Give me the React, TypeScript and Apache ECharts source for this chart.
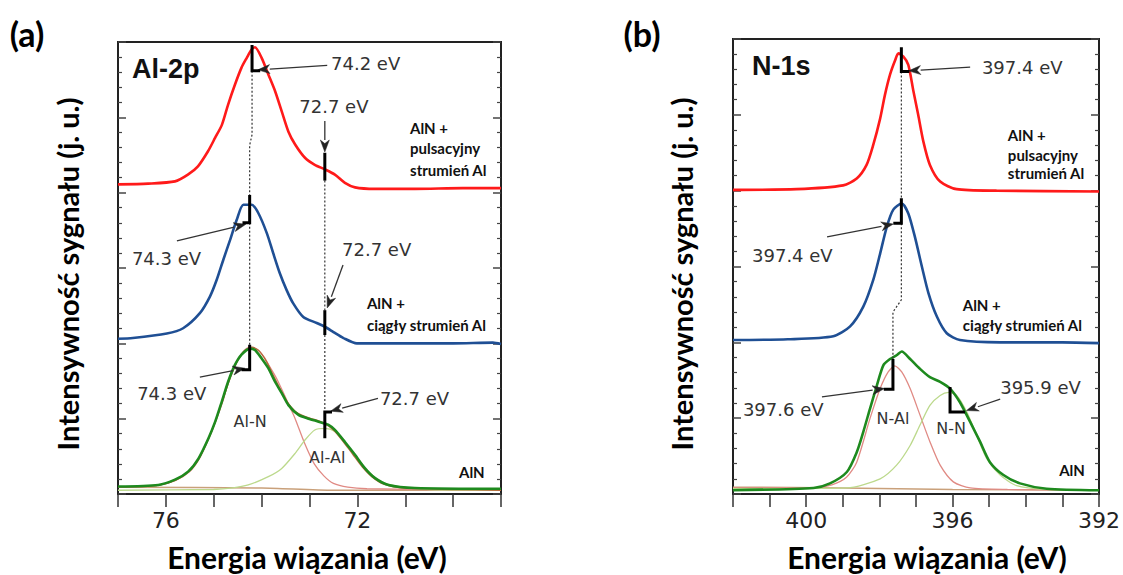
import React, { useEffect, useRef } from "react";
import * as echarts from "echarts";

// ---------- DATA (binding energy eV, intensity a.u.) ----------
const alTickLabels = [76, 72];
const nTickLabels = [400, 396, 392];

const alRed = [[77,4.11],[76.37,4.12],[75.81,4.15],[75.54,4.24],[75.33,4.35],[75.12,4.55],[74.97,4.73],[74.83,4.9],[74.7,5.17],[74.56,5.43],[74.42,5.66],[74.31,5.79],[74.21,5.9],[74.14,5.93],[74.0,5.79],[73.86,5.57],[73.72,5.35],[73.58,5.08],[73.44,4.81],[73.3,4.64],[73.09,4.46],[72.89,4.37],[72.68,4.31],[72.47,4.24],[72.26,4.13],[72.05,4.07],[71.63,4.05],[70.8,4.05],[69.8,4.06],[69,4.06]];
const alBlue = [[77,2.06],[76.69,2.07],[75.98,2.13],[75.64,2.2],[75.29,2.4],[75.08,2.62],[74.94,2.84],[74.8,3.11],[74.66,3.37],[74.52,3.64],[74.38,3.84],[74.21,3.84],[74.07,3.73],[73.89,3.46],[73.76,3.2],[73.62,2.93],[73.48,2.71],[73.34,2.53],[73.13,2.35],[72.85,2.27],[72.68,2.22],[72.5,2.15],[72.29,2.07],[72.01,2.0],[71.11,2.0],[70,2.0],[69.17,2.01],[69,1.99]];
const alGreen = [[77,0.1],[76.16,0.12],[75.81,0.19],[75.53,0.3],[75.32,0.47],[75.11,0.74],[74.97,0.96],[74.83,1.23],[74.7,1.49],[74.56,1.71],[74.42,1.85],[74.24,1.93],[74.14,1.91],[74.0,1.8],[73.86,1.67],[73.72,1.49],[73.58,1.34],[73.44,1.18],[73.23,1.05],[73.02,1.0],[72.81,0.96],[72.61,0.92],[72.47,0.85],[72.26,0.69],[72.05,0.52],[71.84,0.34],[71.63,0.21],[71.35,0.12],[70.8,0.08],[69,0.07]];
const alFitN = [[77,0.09],[76.2,0.11],[75.8,0.18],[75.5,0.3],[75.3,0.47],[75.1,0.74],[74.95,0.98],[74.8,1.25],[74.7,1.48],[74.55,1.72],[74.4,1.88],[74.25,1.95],[74.1,1.92],[73.95,1.82],[73.85,1.71],[73.7,1.55],[73.55,1.35],[73.4,1.14],[73.3,1.0],[73.1,0.67],[72.9,0.4],[72.7,0.24],[72.5,0.14],[72.2,0.09],[71.8,0.07],[69,0.05]];
const alFitAl = [[77,0.05],[75,0.06],[74.6,0.08],[74.28,0.12],[73.86,0.23],[73.58,0.34],[73.3,0.54],[73.09,0.72],[72.89,0.85],[72.68,0.87],[72.47,0.83],[72.26,0.69],[72.05,0.52],[71.77,0.3],[71.49,0.16],[71.15,0.1],[70.5,0.06],[69,0.05]];
const alEnvelope = [[77,0.09],[76.2,0.11],[75.8,0.18],[75.5,0.31],[75.3,0.48],[75.1,0.75],[74.95,0.99],[74.8,1.27],[74.65,1.55],[74.5,1.77],[74.35,1.9],[74.2,1.95],[74.05,1.9],[73.9,1.76],[73.75,1.57],[73.6,1.38],[73.45,1.21],[73.3,1.1],[73.1,1.03],[72.9,0.99],[72.7,0.94],[72.5,0.85],[72.3,0.7],[72.1,0.53],[71.9,0.36],[71.7,0.23],[71.45,0.13],[71.1,0.08],[70,0.06],[69,0.05]];
const alBackground = [[77,0.09],[74,0.08],[72.5,0.05],[69,0.05]];

const nRed = [[402,4.01],[400.26,4.02],[398.99,4.07],[398.62,4.16],[398.35,4.34],[398.17,4.6],[397.98,4.95],[397.85,5.26],[397.71,5.53],[397.57,5.72],[397.48,5.81],[397.35,5.77],[397.21,5.66],[397.07,5.31],[396.94,5.0],[396.8,4.65],[396.62,4.34],[396.34,4.12],[395.89,4.02],[394.8,4.0],[392,3.99]];
const nBlue = [[402,2.03],[400.5,2.04],[399.26,2.08],[398.8,2.21],[398.44,2.47],[398.17,2.82],[397.98,3.17],[397.8,3.52],[397.62,3.75],[397.39,3.83],[397.21,3.7],[397.03,3.39],[396.84,3.0],[396.66,2.65],[396.43,2.34],[396.16,2.12],[395.8,2.03],[394.7,2.0],[393,2.0],[392,1.99]];
const nGreen = [[402,0.05],[399.8,0.08],[399.35,0.14],[398.89,0.29],[398.62,0.55],[398.44,0.82],[398.26,1.12],[398.07,1.43],[397.89,1.7],[397.71,1.78],[397.53,1.83],[397.39,1.88],[397.16,1.78],[396.89,1.65],[396.62,1.54],[396.34,1.48],[396.07,1.39],[395.8,1.21],[395.52,0.95],[395.25,0.69],[394.98,0.42],[394.61,0.25],[394.16,0.14],[393.43,0.07],[392,0.05]];
const nFitAl = [[402,0.08],[399.8,0.08],[399.3,0.12],[398.9,0.22],[398.62,0.42],[398.26,0.99],[397.98,1.39],[397.76,1.61],[397.58,1.69],[397.39,1.61],[397.16,1.39],[396.89,1.04],[396.62,0.69],[396.34,0.38],[395.98,0.16],[395.52,0.08],[394.5,0.06],[392,0.05]];
const nFitN = [[402,0.07],[398.89,0.08],[397.98,0.2],[397.53,0.38],[397.16,0.64],[396.89,0.91],[396.62,1.17],[396.34,1.3],[396.11,1.34],[395.89,1.3],[395.61,1.08],[395.34,0.77],[395.07,0.47],[394.7,0.25],[394.25,0.11],[393.43,0.06],[392,0.05]];
const nBackground = [[402,0.09],[399,0.08],[396,0.06],[392,0.05]];

// ---------- ANNOTATIONS (data coordinates) ----------
const alBars = [
  [[74.2,5.96],[74.2,5.62],[74.03,5.62]],
  [[74.25,3.97],[74.25,3.6],[74.4,3.6]],
  [[74.25,1.98],[74.25,1.65],[74.42,1.65]],
  [[72.68,4.53],[72.68,4.16]],
  [[72.68,2.44],[72.68,2.11]],
  [[72.53,1.09],[72.68,1.09],[72.68,0.74]],
];
const alDots = [
  [[74.2,5.62],[74.2,4.77],[74.25,4.63],[74.25,3.97]],
  [[74.25,3.6],[74.25,1.98]],
  [[72.68,4.16],[72.68,2.44]],
  [[72.68,2.11],[72.68,1.09]],
];
const alArrows = [
  [[72.63,5.69],[74.08,5.63]],
  [[75.77,3.36],[74.33,3.58]],
  [[75.29,1.55],[74.35,1.67]],
  [[72.68,4.95],[72.68,4.54]],
  [[72.3,3.04],[72.63,2.47]],
  [[71.57,1.27],[72.56,1.1]],
];
const alTexts = [
  { at: [72.55,5.72], text: "74.2 eV", kind: "ev", align: "left" },
  { at: [76.71,3.13], text: "74.3 eV", kind: "ev", align: "left" },
  { at: [76.6,1.34], text: "74.3 eV", kind: "ev", align: "left" },
  { at: [72.49,5.15], text: "72.7 eV", kind: "ev", align: "center" },
  { at: [72.32,3.24], text: "72.7 eV", kind: "ev", align: "left" },
  { at: [71.53,1.27], text: "72.7 eV", kind: "ev", align: "left" },
  { at: [74.24,0.96], text: "Al-N", kind: "comp", align: "center" },
  { at: [72.63,0.48], text: "Al-Al", kind: "comp", align: "center" },
  { at: [69.61,0.29], text: "AlN", kind: "sample", align: "center" },
  { at: [71.8,2.54], text: "AlN +", kind: "sample", align: "left" },
  { at: [71.8,2.24], text: "ciągły strumień Al", kind: "sample", align: "left" },
  { at: [70.9,4.86], text: "AlN +", kind: "sample", align: "left" },
  { at: [70.9,4.59], text: "pulsacyjny", kind: "sample", align: "left" },
  { at: [70.9,4.3], text: "strumień Al", kind: "sample", align: "left" },
  { at: [76.71,5.64], text: "Al-2p", kind: "title", align: "left" },
];

const nBars = [
  [[397.4,5.89],[397.4,5.57],[397.18,5.57]],
  [[397.4,3.9],[397.4,3.57],[397.62,3.57]],
  [[397.63,1.78],[397.63,1.38],[397.88,1.38]],
  [[396.07,1.41],[396.07,1.08],[395.66,1.08]],
];
const nDots = [
  [[397.4,5.57],[397.4,3.9]],
  [[397.4,3.57],[397.4,2.56],[397.63,2.4],[397.63,1.78]],
];
const nArrows = [
  [[395.52,5.63],[397.2,5.58]],
  [[399.43,3.39],[397.62,3.56]],
  [[399.57,1.28],[397.86,1.39]],
  [[394.7,1.25],[395.62,1.1]],
];
const nTexts = [
  { at: [395.2,5.63], text: "397.4 eV", kind: "ev", align: "left" },
  { at: [401.48,3.15], text: "397.4 eV", kind: "ev", align: "left" },
  { at: [401.73,1.12], text: "397.6 eV", kind: "ev", align: "left" },
  { at: [394.7,1.41], text: "395.9 eV", kind: "ev", align: "left" },
  { at: [397.63,0.99], text: "N-Al", kind: "comp", align: "center" },
  { at: [396.04,0.86], text: "N-N", kind: "comp", align: "center" },
  { at: [392.74,0.32], text: "AlN", kind: "sample", align: "center" },
  { at: [395.72,2.49], text: "AlN +", kind: "sample", align: "left" },
  { at: [395.72,2.23], text: "ciągły strumień Al", kind: "sample", align: "left" },
  { at: [394.49,4.73], text: "AlN +", kind: "sample", align: "left" },
  { at: [394.49,4.47], text: "pulsacyjny", kind: "sample", align: "left" },
  { at: [394.49,4.23], text: "strumień Al", kind: "sample", align: "left" },
  { at: [401.48,5.64], text: "N-1s", kind: "title", align: "left" },
];

// ---------- STYLES ----------
const RED = "#ff1a1a";
const BLUE = "#1f4f94";
const GREEN = "#1e8a1e";
const FIT_RED = "#e08a84";
const FIT_GREEN = "#bcd98c";
const ENVELOPE = "#b5673a";
const BACKGROUND = "#c9a07a";
const FONTS: Record<string, string> = {
  ev: "18px 'DejaVu Sans'",
  comp: "16px 'DejaVu Sans'",
  sample: "bold 15px Lato",
  title: "bold 27px 'Liberation Sans'",
};

const lineSeries = (data: number[][], color: string, width: number, g: number, z = 3) => ({
  type: "line",
  data,
  xAxisIndex: g,
  yAxisIndex: g * 2,
  showSymbol: false,
  symbol: "none",
  smooth: 0.25,
  z,
  lineStyle: { color, width },
  silent: true,
});

const xAxisCfg = (g: number, min: number, max: number, labels: number[]) => ({
  type: "value",
  gridIndex: g,
  min,
  max,
  interval: 1,
  inverse: true,
  axisLine: { show: true, lineStyle: { color: "#222", width: 2 } },
  axisTick: { show: true, inside: false, length: 13, lineStyle: { color: "#333", width: 1.5 } },
  axisLabel: {
    show: true,
    margin: 15,
    color: "#222",
    fontSize: 22,
    fontFamily: "DejaVu Sans",
    formatter: (v: number) => (labels.includes(v) ? String(v) : ""),
  },
  splitLine: { show: false },
});

const yAxisCfg = (g: number, position: string) => ({
  type: "value",
  gridIndex: g,
  position,
  min: 0,
  max: 6,
  interval: 1,
  axisLine: { show: true, lineStyle: { color: "#222", width: 2 } },
  axisTick: { show: true, inside: true, length: 8, lineStyle: { color: "#444", width: 1.5 } },
  minorTick: { show: true, splitNumber: 5, length: 4, lineStyle: { color: "#444", width: 1.2 } },
  axisLabel: { show: false },
  splitLine: { show: false },
});

export default function App() {
  const ref = useRef<HTMLDivElement>(null);

  useEffect(() => {
    document.body.style.margin = "0";
    const chart = echarts.init(ref.current!, null, { renderer: "svg" });
    chart.setOption({
      animation: false,
      backgroundColor: "#ffffff",
      grid: [
        { left: 118, top: 42, width: 383, height: 452, show: true, borderColor: "#222", borderWidth: 2 },
        { left: 733, top: 39, width: 366, height: 455, show: true, borderColor: "#222", borderWidth: 2 },
      ],
      xAxis: [xAxisCfg(0, 69, 77, alTickLabels), xAxisCfg(1, 392, 402, nTickLabels)],
      yAxis: [yAxisCfg(0, "left"), yAxisCfg(0, "right"), yAxisCfg(1, "left"), yAxisCfg(1, "right")],
      series: [
        lineSeries(alBackground, BACKGROUND, 1.5, 0, 2),
        lineSeries(alFitN, FIT_RED, 1.3, 0, 2),
        lineSeries(alFitAl, FIT_GREEN, 1.3, 0, 2),
        lineSeries(alEnvelope, ENVELOPE, 1.3, 0, 2),
        lineSeries(alGreen, GREEN, 2.6, 0),
        lineSeries(alBlue, BLUE, 2.6, 0),
        lineSeries(alRed, RED, 2.6, 0),
        lineSeries(nBackground, BACKGROUND, 1.5, 1, 2),
        lineSeries(nFitAl, FIT_RED, 1.3, 1, 2),
        lineSeries(nFitN, FIT_GREEN, 1.3, 1, 2),
        lineSeries(nGreen, GREEN, 2.6, 1),
        lineSeries(nBlue, BLUE, 2.6, 1),
        lineSeries(nRed, RED, 2.6, 1),
      ],
    });

    const toPx = (g: number, p: number[]) =>
      chart.convertToPixel({ xAxisIndex: g, yAxisIndex: g * 2 } as any, p) as number[];

    const elements: any[] = [];
    const panels = [
      { g: 0, bars: alBars, dots: alDots, arrows: alArrows, texts: alTexts },
      { g: 1, bars: nBars, dots: nDots, arrows: nArrows, texts: nTexts },
    ];
    panels.forEach(({ g, bars, dots, arrows, texts }) => {
      dots.forEach((pts) => {
        elements.push({
          type: "polyline",
          z: 50,
          shape: { points: pts.map((p) => toPx(g, p)) },
          style: { stroke: "#333", lineWidth: 1.2, lineDash: [2, 2], fill: null },
        });
      });
      bars.forEach((pts) => {
        elements.push({
          type: "polyline",
          z: 60,
          shape: { points: pts.map((p) => toPx(g, p)) },
          style: { stroke: "#000", lineWidth: 3, fill: null },
        });
      });
      arrows.forEach(([a, b]) => {
        const p1 = toPx(g, a);
        const p2 = toPx(g, b);
        const dx = p2[0] - p1[0];
        const dy = p2[1] - p1[1];
        const len = Math.hypot(dx, dy);
        const ux = dx / len;
        const uy = dy / len;
        const hl = 12;
        const hw = 4.5;
        const bx = p2[0] - ux * hl;
        const by = p2[1] - uy * hl;
        elements.push({
          type: "line",
          z: 55,
          shape: { x1: p1[0], y1: p1[1], x2: bx, y2: by },
          style: { stroke: "#333", lineWidth: 1.3 },
        });
        elements.push({
          type: "polygon",
          z: 56,
          shape: {
            points: [
              [p2[0], p2[1]],
              [bx - uy * hw, by + ux * hw],
              [p2[0] - ux * hl * 0.7, p2[1] - uy * hl * 0.7],
              [bx + uy * hw, by - ux * hw],
            ],
          },
          style: { fill: "#222", stroke: "#222", lineWidth: 0.5 },
        });
      });
      texts.forEach((t: any) => {
        const p = toPx(g, t.at);
        elements.push({
          type: "text",
          z: 70,
          x: p[0],
          y: p[1],
          style: {
            text: t.text,
            font: FONTS[t.kind],
            fill: t.kind === "ev" || t.kind === "comp" ? "#333" : "#111",
            align: t.align,
            verticalAlign: "middle",
          },
        });
      });
    });

    const bigTexts = [
      { x: 27, y: 33, text: "(a)", font: "bold 34px Lato", rot: 0 },
      { x: 642, y: 33, text: "(b)", font: "bold 34px Lato", rot: 0 },
      { x: 307, y: 557, text: "Energia wiązania (eV)", font: "bold 30px Lato", rot: 0 },
      { x: 927, y: 557, text: "Energia wiązania (eV)", font: "bold 30px Lato", rot: 0 },
      { x: 67, y: 274, text: "Intensywność sygnału (j. u.)", font: "bold 29px Lato", rot: Math.PI / 2 },
      { x: 681, y: 274, text: "Intensywność sygnału (j. u.)", font: "bold 29px Lato", rot: Math.PI / 2 },
    ];
    bigTexts.forEach((t) => {
      elements.push({
        type: "text",
        z: 70,
        x: t.x,
        y: t.y,
        rotation: t.rot,
        style: { text: t.text, font: t.font, fill: "#000", align: "center", verticalAlign: "middle" },
      });
    });

    chart.setOption({ graphic: { elements } });

    return () => chart.dispose();
  }, []);

  return <div ref={ref} style={{ width: 1123, height: 575 }} />;
}
